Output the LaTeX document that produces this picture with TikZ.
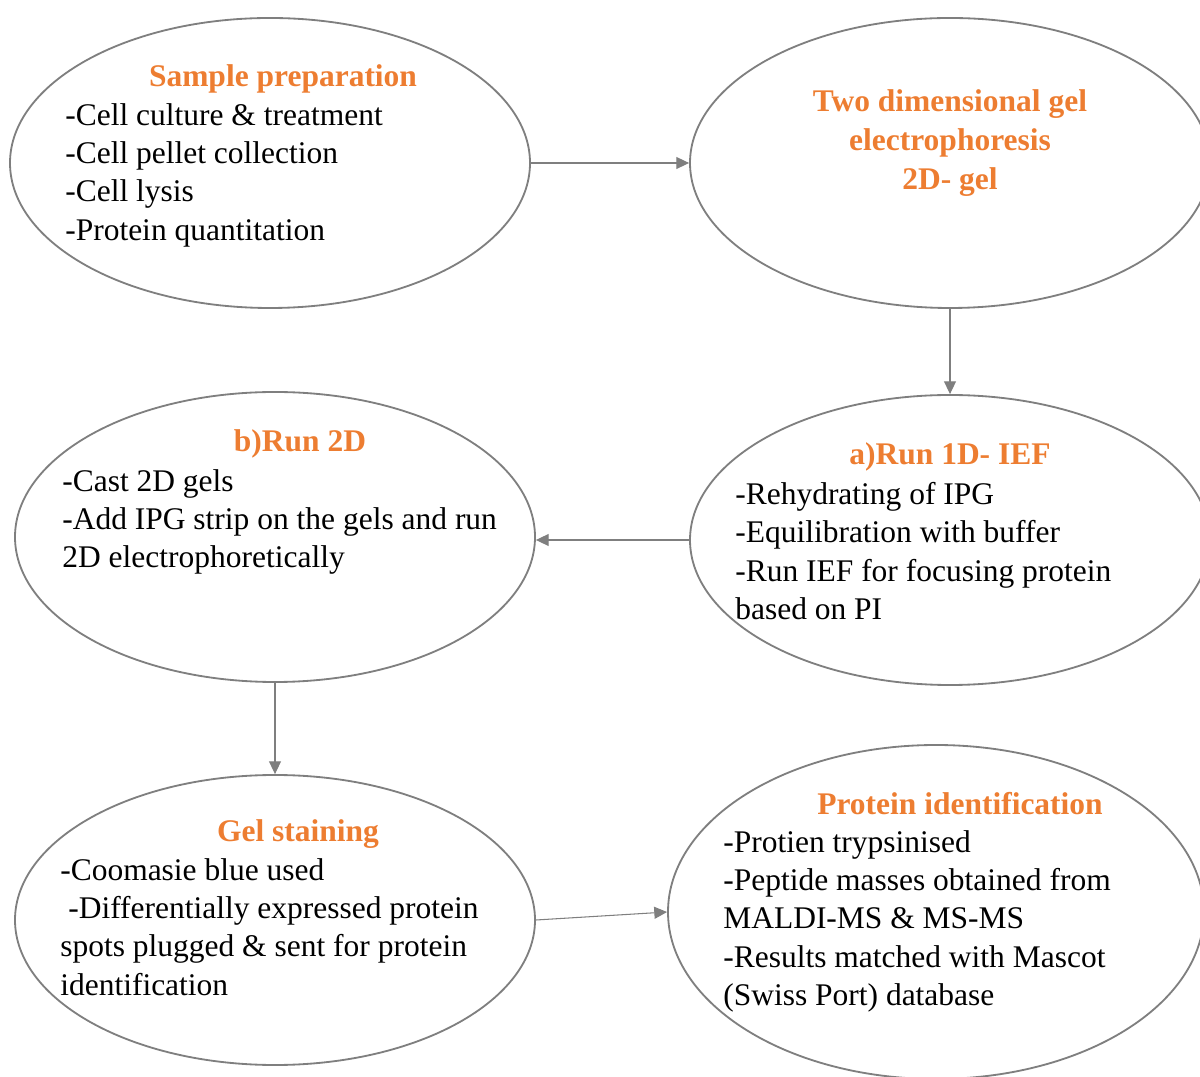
\documentclass[tikz,border=0pt]{standalone}
\usepackage{fontspec}
\setmainfont{Liberation Serif}
\usetikzlibrary{shapes.geometric,arrows.meta}
\definecolor{linegray}{HTML}{7F7F7F}
\definecolor{headorange}{HTML}{ED7D31}

\begin{document}
\begin{tikzpicture}[
	stage/.style={draw=linegray, line width=1.3pt, shape=ellipse, inner sep=0pt, minimum width=13cm, minimum height=7.25cm},
	head/.style={font=\fontsize{22.4}{27.5}\selectfont\bfseries, text=headorange, align=center, inner sep=0pt},
	body/.style={font=\fontsize{22.4}{27.3}\selectfont, align=left, anchor=north west, inner sep=0pt},
	flow/.style={draw=linegray, line width=0.75pt, -{Triangle[length=0.32cm, width=0.3cm]}}
]
	%\draw[help lines] (0,0) grid (30,27);
	\useasboundingbox (0,0) rectangle (30,26.9);
	\clip (0,0) rectangle (30,26.9);
	\node[stage] (prep) at (6.75,22.825) {};
	\node[stage] (gel2d) at (23.75,22.825) {};
	\node[stage] (run2d) at (6.875,13.475) {};
	\node[stage] (run1d) at (23.75,13.4) {};
	\node[stage] (stain) at (6.875,3.9) {};
	\node[stage, minimum width=13.4cm, minimum height=8.35cm] (ident) at (23.4,4.1) {};

	\node[head] (prep-head) at (7.075,24.93) {Sample preparation};
	\node[body] (prep-body) at (1.625,24.325) {-Cell culture \& treatment\\-Cell pellet collection\\-Cell lysis\\-Protein quantitation};
	\node[head] (gel2d-head) at (23.75,23.32) {Two dimensional gel\\electrophoresis\\2D- gel};
	\node[head] (run2d-head) at (7.5,15.8) {b)Run 2D};
	\node[body] (run2d-body) at (1.55,15.175) {-Cast 2D gels\\-Add IPG strip on the gels and run\\2D electrophoretically};
	\node[head] (run1d-head) at (23.75,15.47) {a)Run 1D- IEF};
	\node[body] (run1d-body) at (18.375,14.85) {-Rehydrating of IPG\\-Equilibration with buffer\\-Run IEF for focusing protein\\based on PI};
	\node[head] (stain-head) at (7.45,6.05) {Gel staining};
	\node[body] (stain-body) at (1.5,5.45) {-Coomasie blue used\\\hspace{0.2cm}-Differentially expressed protein\\spots plugged \& sent for protein\\identification};
	\node[head] (ident-head) at (24.0,6.8) {Protein identification};
	\node[body] (ident-body) at (18.075,6.15) {-Protien trypsinised\\-Peptide masses obtained from\\MALDI-MS \& MS-MS\\-Results matched with Mascot\\(Swiss Port) database};

	\draw[flow] (prep.east) -- (gel2d.west);
	\draw[flow] (gel2d.south) -- (run1d.north);
	\draw[flow] (run1d.west) -- (run1d.west -| run2d.east);
	\draw[flow] (run2d.south) -- (stain.north);
	\draw[flow] (stain.east) -- (ident.west);
\end{tikzpicture}
\end{document}
